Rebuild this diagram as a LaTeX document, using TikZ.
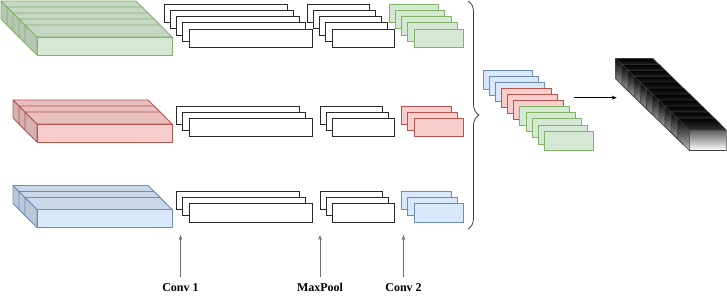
\documentclass[tikz,border=0pt]{standalone}
\usepackage{fontspec}
\setmainfont{Liberation Serif}
\usepackage{xcolor}
\usepackage{tikz}
\usetikzlibrary{arrows.meta, positioning, decorations.pathreplacing}
\definecolor{fmgreen}{RGB}{213,232,212}
\definecolor{stgreen}{RGB}{130,179,102}
\definecolor{fmred}{RGB}{248,206,204}
\definecolor{stred}{RGB}{184,84,80}
\definecolor{fmblue}{RGB}{218,232,252}
\definecolor{stblue}{RGB}{108,142,191}
\definecolor{mapline}{RGB}{40,40,40}
\definecolor{arrowgray}{RGB}{110,110,110}
\definecolor{bracecol}{RGB}{60,60,60}
\tikzset{
  convmap/.style={rectangle, draw=mapline, fill=white,
    minimum width=123pt, minimum height=18.3pt, inner sep=0pt,
    outer sep=0pt, anchor=north west, line width=0.8pt},
  poolmap/.style={convmap, minimum width=62pt},
  smallmap/.style={convmap, minimum width=49.3pt},
  catmap/.style={convmap, minimum width=49.5pt, minimum height=19pt},
  lbl/.style={font=\bfseries\fontsize{12}{14}\selectfont, inner sep=3pt},
  arrow/.style={-{Stealth[length=5pt,width=4pt]}, line width=0.6pt, color=black},
  grayarrow/.style={-{Stealth[length=5pt,width=3.5pt]}, line width=0.6pt,
    color=arrowgray, shorten <=3pt},
  bracket/.style={decorate, decoration={brace, amplitude=11pt},
    line width=0.8pt, color=bracecol},
  inkline/.style={draw=black!75, line width=0.6pt, line join=round}
}
% cuboid: back corner x, y, face width, face height, depth, fill, stroke
\newcommand{\cuboid}[7]{%
  \fill[#6!86!black, draw=#7, line width=0.8pt, line join=round]
    (#1,#2) -- ++(#5,#5) -- ++(0,#4) -- ++(-#5,-#5) -- cycle;
  \fill[#6!93!black, draw=#7, line width=0.8pt, line join=round]
    (#1,#2) -- ++(#3,0) -- ++(#5,#5) -- ++(-#3,0) -- cycle;
  \filldraw[fill=#6, draw=#7, line width=0.8pt] (#1+#5,#2+#5) rectangle ++(#3,#4);
}
% dark slab of the output prism
\newcommand{\inkslab}[2]{%
  \shade[top color=black, bottom color=white]
    (#1,#2) -- ++(37,0) -- ++(12,12) -- ++(0,20.5) -- ++(-37,0) -- ++(-12,-12) -- cycle;
  \fill[black, opacity=0.45] (#1,#2) -- ++(37,0) -- ++(12,12) -- ++(-37,0) -- cycle;
  \fill[black, opacity=0.25] (#1,#2) -- ++(12,12) -- ++(0,20.5) -- ++(-12,-12) -- cycle;
  \draw[inkline] (#1,#2) -- ++(37,0) -- ++(12,12) -- ++(0,20.5) -- ++(-37,0) -- ++(-12,-12) -- cycle;
  \draw[inkline] (#1,#2) -- ++(12,12) -- ++(37,0) ++(-37,0) -- ++(0,20.5);
}

\begin{document}
\begin{tikzpicture}[x=1pt, y=-1pt]
  \useasboundingbox (0,0) rectangle (727,298);

  % input blocks
  \foreach \i in {0,...,4} {\cuboid{1+6*\i}{1+6*\i}{135}{18}{12}{fmgreen}{stgreen}}
  \foreach \i in {0,...,2} {\cuboid{13+6*\i}{100+6*\i}{135}{18}{12}{fmred}{stred}}
  \foreach \i in {0,...,2} {\cuboid{13+6*\i}{185.5+6*\i}{135}{18}{12}{fmblue}{stblue}}

  % conv 1
  \foreach \i in {0,...,4} \node[convmap] (cga\i) at (164.3+6.15*\i, 4.3+6.15*\i) {};
  \foreach \i in {0,...,2} \node[convmap] (cra\i) at (176.7+6.15*\i, 106+6.15*\i) {};
  \foreach \i in {0,...,2} \node[convmap] (cba\i) at (176.7+6.15*\i, 191.3+6.15*\i) {};

  % maxpool
  \foreach \i in {0,...,4} \node[poolmap] (pg\i) at (307.3+6.15*\i, 4.3+6.15*\i) {};
  \foreach \i in {0,...,2} \node[poolmap] (pr\i) at (320+6.15*\i, 106+6.15*\i) {};
  \foreach \i in {0,...,2} \node[poolmap] (pb\i) at (320+6.15*\i, 191.3+6.15*\i) {};

  % conv 2
  \foreach \i in {0,...,4} \node[smallmap, fill=fmgreen, draw=stgreen] (cgb\i) at (389.3+6.15*\i, 4.3+6.15*\i) {};
  \foreach \i in {0,...,2} \node[smallmap, fill=fmred, draw=stred] (crb\i) at (401.7+6.15*\i, 106+6.15*\i) {};
  \foreach \i in {0,...,2} \node[smallmap, fill=fmblue, draw=stblue] (cbb\i) at (401.7+6.15*\i, 191.3+6.15*\i) {};

  \draw[bracket] (468,1) -- (468,229);

  % concatenation
  \foreach \c [count=\i from 0] in {blue,blue,blue,red,red,red,green,green,green,green,green}
    \node[catmap, fill=fm\c, draw=st\c] (cat\i) at (483+6.13*\i, 70.3+6.07*\i) {};

  \coordinate (catout) at (574,97.7);
  \coordinate (prismin) at (616.7,97.7);
  \draw[arrow] (catout) -- (prismin);

  % output prism
  \foreach \i in {0,...,10} {\inkslab{615.7+6.16*\i}{58.3+5.97*\i}}

  % layer labels
  \node[lbl] (lconv1) at (180.5,287.3) {Conv 1};
  \node[lbl] (lpool) at (320,287.3) {MaxPool};
  \node[lbl] (lconv2) at (403.5,287.3) {Conv 2};
  \coordinate (aconv1) at (180.5,235);
  \coordinate (apool) at (320,235);
  \coordinate (aconv2) at (403.5,235);
  \draw[grayarrow] (lconv1) -- (aconv1);
  \draw[grayarrow] (lpool) -- (apool);
  \draw[grayarrow] (lconv2) -- (aconv2);
\end{tikzpicture}
\end{document}
